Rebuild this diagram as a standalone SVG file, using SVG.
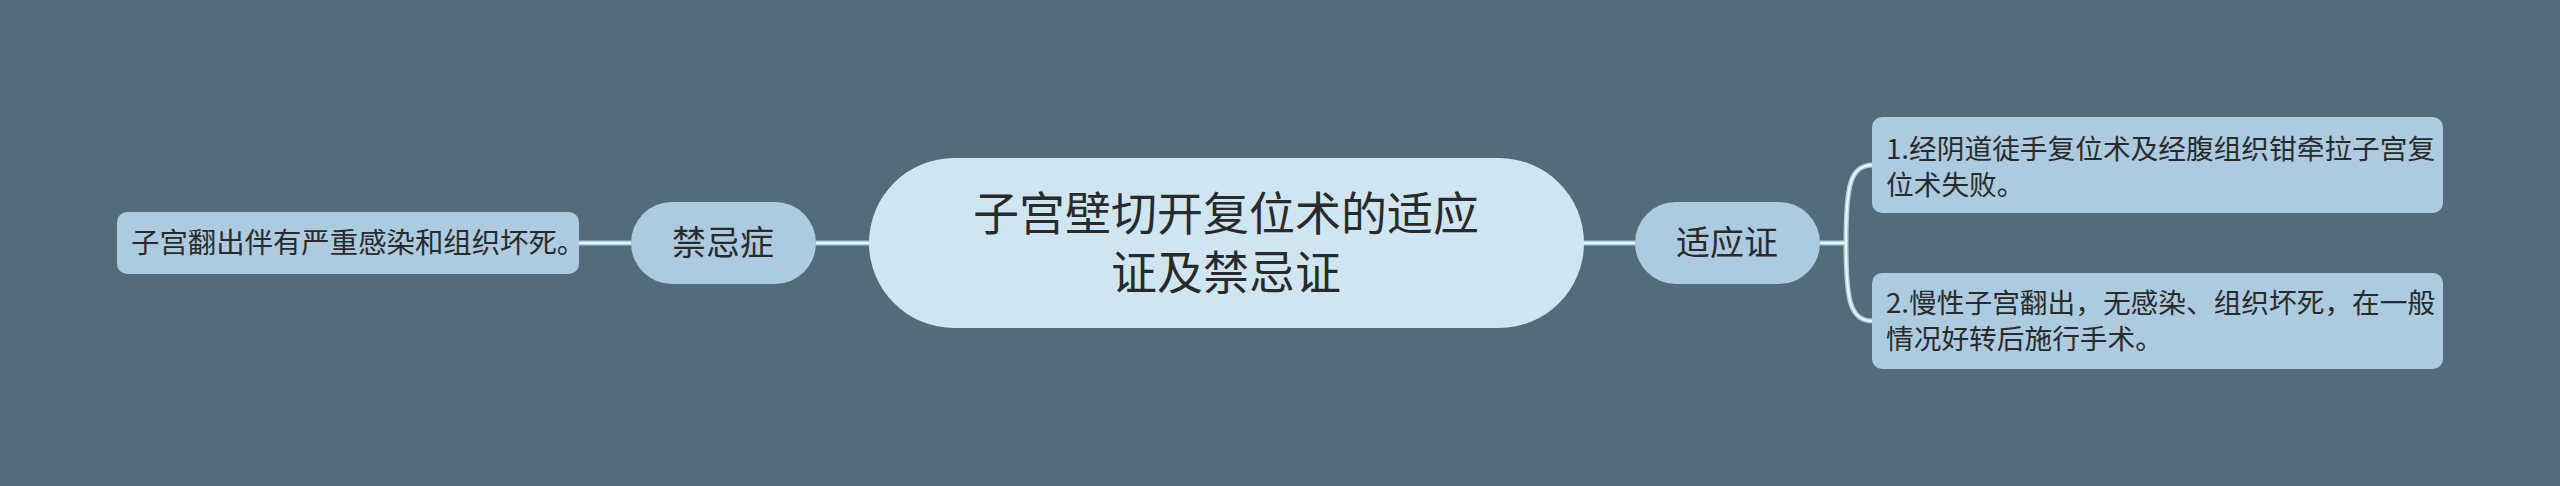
<svg xmlns="http://www.w3.org/2000/svg" width="2560" height="486" viewBox="0 0 2560 486">
<style>
.bg{fill:#546b7a}
.lo{fill:none;stroke:#a9cfe3;stroke-width:5}
.li{fill:none;stroke:#eef8fc;stroke-width:2}
.root{fill:#cfe6f2}
.sub{fill:#adcbe0}
.leaf{fill:#adcbe0}
text{font-family:"Noto Sans CJK SC","Noto Sans",sans-serif;fill:#2a2a2a}
.t0{font-size:46px;text-anchor:middle}
.t1{font-size:34px;text-anchor:middle}
.t2{font-size:27.7px}
.t3{font-size:28.4px}
</style>
<rect class="bg" x="0" y="0" width="2560" height="486"/>
<g id="connectors">
<path class="lo" d="M579,243H631M816,243H869M1583,243H1635M1820,243H1846M1846,243C1846,185 1850,165 1873,165M1846,243C1846,301 1850,321 1873,321"/>
<path class="li" d="M579,243H631M816,243H869M1583,243H1635M1820,243H1846M1846,243C1846,185 1850,165 1873,165M1846,243C1846,301 1850,321 1873,321"/>
</g>
<g id="root">
<rect class="root" x="869" y="158" width="715" height="170" rx="85"/>
<text class="t0" x="1226" y="230">子宫壁切开复位术的适应<tspan x="1226" dy="59">证及禁忌证</tspan></text>
</g>
<g id="contra">
<rect class="sub" x="631" y="202" width="185" height="82" rx="41"/>
<text class="t1" x="723" y="255">禁忌症</text>
</g>
<g id="contra-1">
<rect class="leaf" x="117" y="212" width="462" height="62" rx="10"/>
<text class="t3" x="131" y="253">子宫翻出伴有严重感染和组织坏死。</text>
</g>
<g id="indic">
<rect class="sub" x="1635" y="202" width="185" height="82" rx="41"/>
<text class="t1" x="1727" y="255">适应证</text>
</g>
<g id="indic-1">
<rect class="leaf" x="1872" y="117" width="571" height="96" rx="10"/>
<text class="t2" x="1886" y="159">1.经阴道徒手复位术及经腹组织钳牵拉子宫复<tspan x="1886" dy="36">位术失败。</tspan></text>
</g>
<g id="indic-2">
<rect class="leaf" x="1872" y="273" width="571" height="96" rx="10"/>
<text class="t2" x="1886" y="313">2.慢性子宫翻出，无感染、组织坏死，在一般<tspan x="1886" dy="36">情况好转后施行手术。</tspan></text>
</g>
</svg>
